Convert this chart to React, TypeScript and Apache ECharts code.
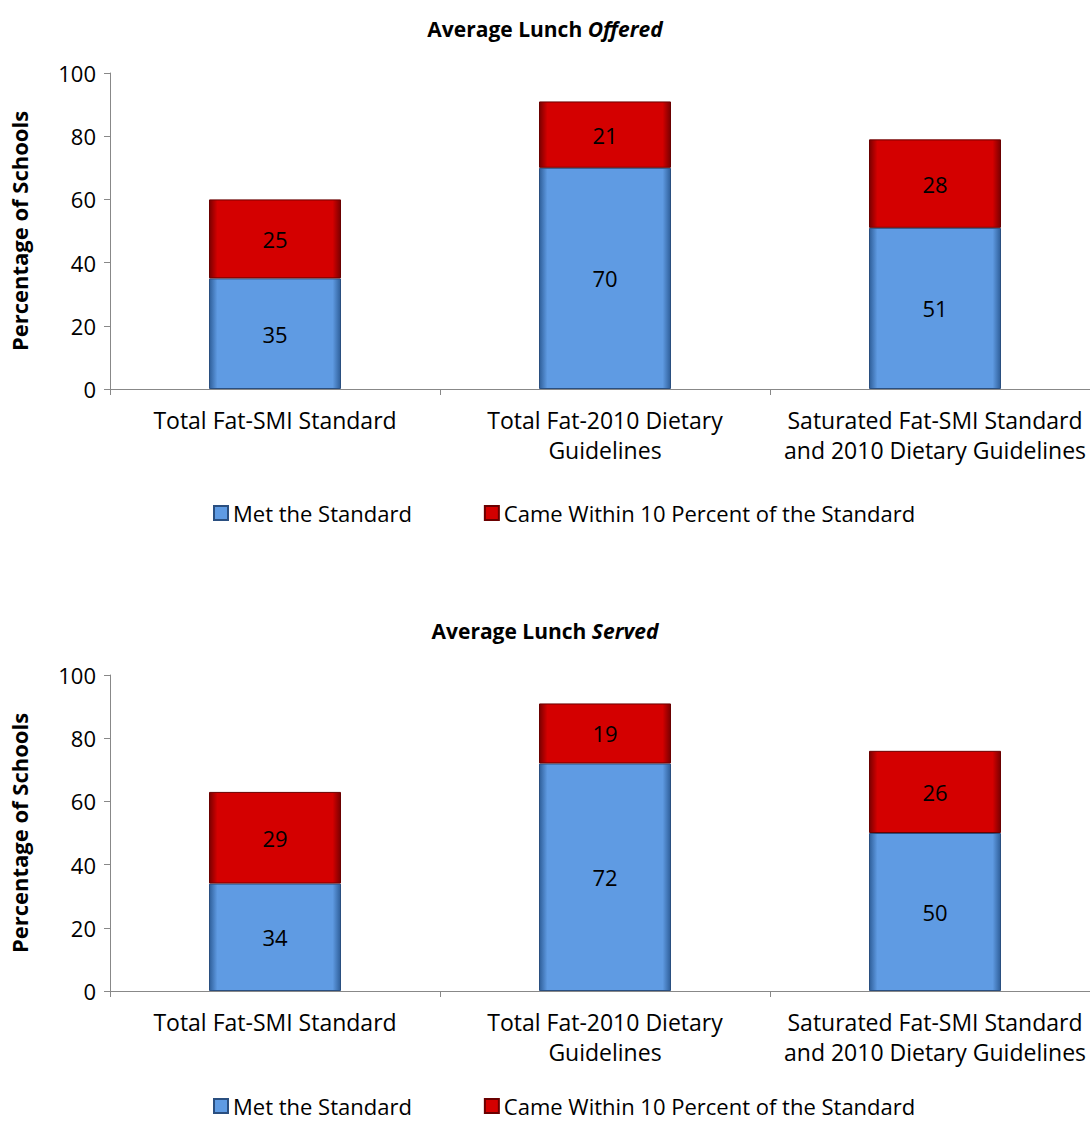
import React, { useEffect, useRef } from "react";
import * as echarts from "echarts";

const categories = [
  "Total Fat-SMI Standard",
  "Total Fat-2010 Dietary\nGuidelines",
  "Saturated Fat-SMI Standard\nand 2010 Dietary Guidelines",
];
const offeredMet = [35, 70, 51];
const offeredWithin = [25, 21, 28];
const servedMet = [34, 72, 50];
const servedWithin = [29, 19, 26];
const seriesNames = ["Met the Standard", "Came Within 10 Percent of the Standard"];
const yTicks = { min: 0, max: 100, interval: 20 };

const FONT = "Open Sans";

const grad = (edge: string, mid: string) =>
  new echarts.graphic.LinearGradient(0, 0, 1, 0, [
    { offset: 0, color: edge },
    { offset: 0.06, color: mid },
    { offset: 0.94, color: mid },
    { offset: 1, color: edge },
  ]);

export default function App() {
  const ref = useRef<HTMLDivElement>(null);
  useEffect(() => {
    if (!ref.current) return;
    const chart = echarts.init(ref.current, undefined, { renderer: "svg" });
    const tops = [73, 675];
    const legendTops = [501, 1094];
    const datasets = [
      [offeredMet, offeredWithin],
      [servedMet, servedWithin],
    ];
    const titles = ["Offered", "Served"];
    const blue = grad("#2f5f9a", "#5f9be3");
    const red = grad("#7a0000", "#d40000");
    const option: any = {
      animation: false,
      textStyle: { fontFamily: FONT },
      title: titles.map((t, i) => ({
        text: `{b|Average Lunch }{bi|${t}}`,
        left: "center",
        top: tops[i] - 60,
        textStyle: {
          rich: {
            b: { fontFamily: FONT, fontWeight: "bold", fontSize: 21, color: "#000" },
            bi: { fontFamily: FONT, fontWeight: "bold", fontStyle: "italic", fontSize: 21, color: "#000" },
          },
        },
      })),
      legend: legendTops.map((top) => ({
        top,
        left: 213,
        padding: 0,
        itemWidth: 14,
        itemHeight: 14,
        itemGap: 72,
        icon: "rect",
        textStyle: { fontFamily: FONT, fontSize: 22, lineHeight: 24, color: "#000" },
        data: seriesNames.map((n) => ({ name: n })),
      })),
      grid: tops.map((top) => ({ left: 110, width: 990, top, height: 316, outerBoundsMode: "none", containLabel: false })),
      xAxis: tops.map((_, i) => ({
        type: "category",
        gridIndex: i,
        data: categories,
        axisLine: { lineStyle: { color: "#888" } },
        axisTick: { show: true, length: 6, lineStyle: { color: "#888" } },
        axisLabel: { color: "#000", fontSize: 23, fontFamily: FONT, margin: 16, lineHeight: 30, interval: 0, hideOverlap: false },
      })),
      yAxis: tops.map((_, i) => ({
        type: "value",
        gridIndex: i,
        ...yTicks,
        name: "Percentage of Schools",
        nameLocation: "middle",
        nameGap: 80,
        nameTextStyle: { fontFamily: FONT, fontWeight: "bold", fontSize: 22, color: "#000" },
        splitLine: { show: false },
        axisLine: { show: true, lineStyle: { color: "#888" } },
        axisTick: { show: true, length: 6, lineStyle: { color: "#888" } },
        axisLabel: { color: "#000", fontSize: 22, fontFamily: FONT, margin: 14 },
      })),
      series: datasets.flatMap((ds, i) =>
        ds.map((vals, j) => ({
          type: "bar",
          name: seriesNames[j],
          xAxisIndex: i,
          yAxisIndex: i,
          stack: "s" + i,
          barWidth: 132,
          data: vals,
          itemStyle: {
            color: j === 0 ? blue : red,
            borderColor: j === 0 ? "#2a4f80" : "#6a0000",
            borderWidth: 1,
          },
          label: { show: true, position: "inside", color: "#000", fontSize: 22, fontFamily: FONT },
        }))
      ),
    };
    chart.setOption(option);
    return () => chart.dispose();
  }, []);
  return <div ref={ref} style={{ position: "absolute", left: 0, top: 0, width: 1090, height: 1124 }} />;
}
